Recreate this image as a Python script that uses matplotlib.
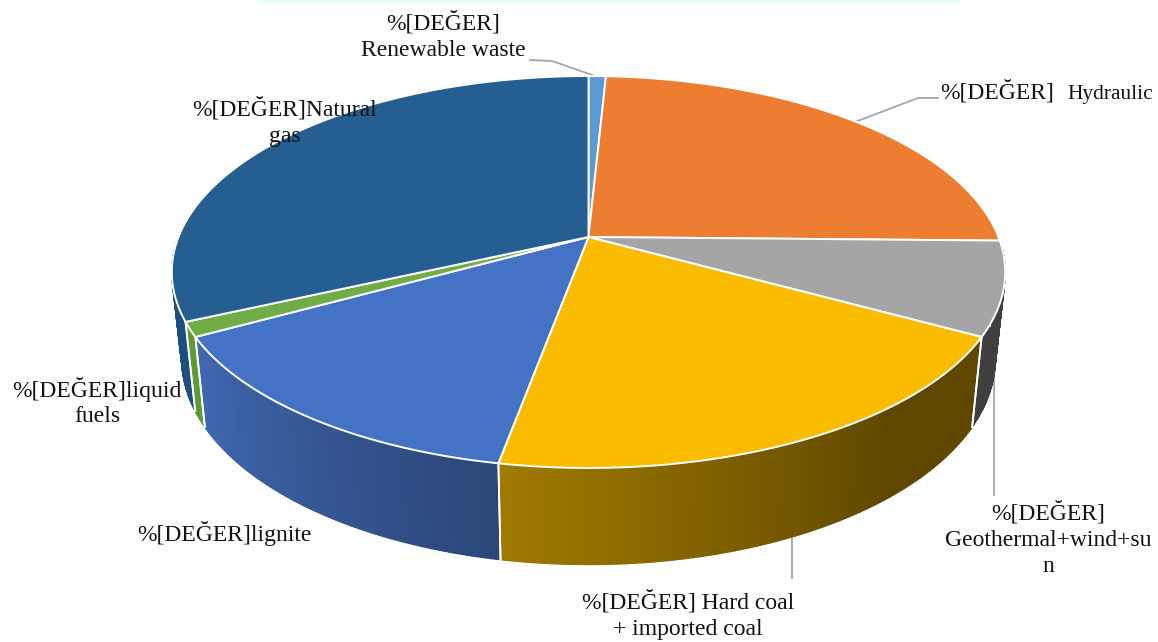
import numpy as np
import matplotlib
matplotlib.use('Agg')
import matplotlib.pyplot as plt
from matplotlib.colors import to_rgb

# share of each source, percent, clockwise from 12 o'clock
names = ['Renewable waste', 'Hydraulic', 'Geothermal+wind+sun', 'Hard coal + imported coal',
         'lignite', 'liquid fuels', 'Natural gas']
values = [0.8, 24.5, 7.7, 19.9, 14.1, 1.2, 31.8]
top_colors = ['#5b9bd5', '#ed7d31', '#a5a5a5', '#fbbc00', '#4472c4', '#70ad47', '#255e91']
wall_start = ['#3f78ad', '#c0652a', '#404040', '#5f4700', '#2b4778', '#5f9a35', '#1c4f7d']
wall_end = ['#3f78ad', '#c0652a', '#404040', '#a07a00', '#4068b2', '#5f9a35', '#1c4f7d']

# perspective of the disk, pixels
cx, cy = 588.5, 237
k, tilt, persp = 410, 0.4627, 0.1786
wall_scale, wall_drop = 0.976, 85


def project(theta, bottom=False):
    x = np.sin(theta)
    y = np.cos(theta)
    sx = k * x / (1 + persp * y)
    sy = -k * tilt * y / (1 + persp * y)
    if bottom:
        return cx + wall_scale * sx, cy + 1.05 * sy + wall_drop
    return cx + sx, cy + sy


fig = plt.figure(figsize=(11.58, 6.42), dpi=100)
ax = fig.add_axes([0, 0, 1, 1])
ax.set_xlim(0, 1158)
ax.set_ylim(642, 0)
ax.axis('off')

# faint strip left along the top edge of the original
ax.fill_between([260, 960], 0, 2.5, color='#e6fbfb', lw=0)

# leader lines go under the pie
line_color = '#a5a5a5'
ax.plot([530, 552, 598], [60, 61, 77], color=line_color, lw=1.3)
ax.plot([938, 918, 855], [98, 98, 122], color=line_color, lw=1.3)
ax.plot([994, 994], [495, 370], color=line_color, lw=1.3)
ax.plot([792, 792], [538, 578], color=line_color, lw=1.3)

edges = np.concatenate([[0], np.cumsum(values)]) / sum(values) * 2 * np.pi

# side wall, drawn in small strips so the shading can run along it
for i in range(len(values)):
    a0, a1 = edges[i], edges[i + 1]
    lo, hi = max(a0, np.pi / 2), min(a1, 3 * np.pi / 2)
    if lo >= hi:
        continue
    c0 = np.array(to_rgb(wall_start[i]))
    c1 = np.array(to_rgb(wall_end[i]))
    n = max(int((hi - lo) / 0.01), 1)
    grid = np.linspace(lo, hi, n + 1)
    for j in range(n):
        t = j / max(n - 1, 1)
        if i == 3:
            # hard coal stays dark for its first part
            t = min(max((t - 0.3) / 0.7, 0), 1)
        col = c0 + (c1 - c0) * t
        th = np.array([grid[j], grid[j + 1]])
        xt, yt = project(th)
        xb, yb = project(th, bottom=True)
        ax.fill(np.r_[xt, xb[::-1]], np.r_[yt, yb[::-1]], facecolor=col, edgecolor=col,
                lw=1.0, zorder=2)
    for a in [lo, hi]:
        if a in (a0, a1):
            xt, yt = project(a)
            xb, yb = project(a, bottom=True)
            ax.plot([xt, xb], [yt, yb], color='white', lw=1.3, zorder=3)

# top face
for i in range(len(values)):
    th = np.linspace(edges[i], edges[i + 1], 200)
    xs, ys = project(th)
    ax.fill(np.r_[cx, xs], np.r_[cy, ys], facecolor=top_colors[i], edgecolor='white',
            lw=1.4, joinstyle='round', zorder=4)

font = dict(family='Liberation Serif', color='#111111', fontsize=17, zorder=6)
ax.text(443, 36, '%[DEĞER]\nRenewable waste', ha='center', va='center', linespacing=1.3, **font)
ax.text(940, 92, '%[DEĞER]', ha='left', va='center', **font)
ax.text(1067, 94, 'Hydraulic', ha='left', va='center', family='Liberation Serif',
        color='#111111', fontsize=15.4, zorder=6)
ax.text(285, 122, '%[DEĞER]Natural\ngas', ha='center', va='center', linespacing=1.35, **font)
ax.text(97, 402, '%[DEĞER]liquid\nfuels', ha='center', va='center', linespacing=1.3, **font)
ax.text(137, 533, '%[DEĞER]lignite', ha='left', va='center', **font)
ax.text(1048, 539, '%[DEĞER]\nGeothermal+wind+su\nn', ha='center', va='center', linespacing=1.3, **font)
ax.text(688, 615, '%[DEĞER] Hard coal\n+ imported coal', ha='center', va='center', linespacing=1.3, **font)

fig.savefig('out.png', dpi=100, facecolor='white')
